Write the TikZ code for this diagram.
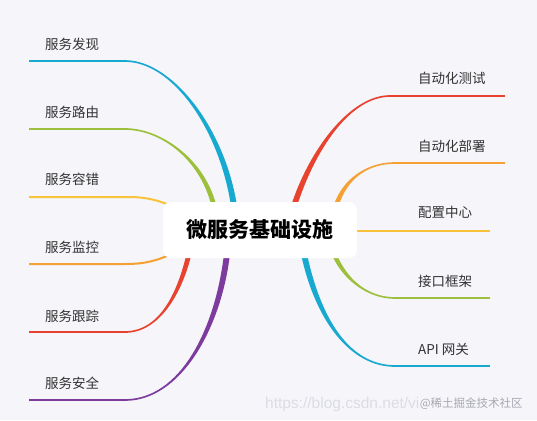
\documentclass[tikz,border=0pt]{standalone}
\usepackage{fontspec}
\setmainfont{Liberation Sans}
\newfontfamily\cjk{Noto Sans CJK SC}
\usetikzlibrary{calc}
\definecolor{bg}{HTML}{F5F5FA}
\definecolor{labelgray}{HTML}{333333}
\definecolor{cyanb}{HTML}{18A9D0}
\definecolor{greenb}{HTML}{9CBF3C}
\definecolor{yellowb}{HTML}{F8C23B}
\definecolor{orangeb}{HTML}{F4A033}
\definecolor{redb}{HTML}{E8432F}
\definecolor{purpleb}{HTML}{7D3B9E}
\definecolor{wmlight}{HTML}{DCDCE4}
\definecolor{wmdark}{HTML}{A8A8B0}
% #1 colour, #2 bend coordinate, #3 c1, #4 c2, #5 end coordinate, #6 start offset, #7 end offset
\newcommand\taperto[7]{%
  \fill[#1] ($(#2)+(#6)$) .. controls ($(#3)+(#6)$) and ($(#4)+(#7)$) .. ($(#5)+(#7)$)
    -- ($(#5)-(#7)$) .. controls ($(#4)-(#7)$) and ($(#3)-(#6)$) .. ($(#2)-(#6)$) -- cycle;}
\begin{document}
\begin{tikzpicture}[x=1pt,y=-1pt,
  lbl/.style={anchor=west, font=\cjk\fontsize{13.5}{16}\selectfont, text=labelgray, inner sep=0pt},
  thin/.style={line width=1.7pt},
  hub/.style={fill=white, rounded corners=8pt, minimum width=194pt, minimum height=56pt,
    font=\cjk\bfseries\fontsize{21}{24}\selectfont, text=black, inner sep=0pt}]
\fill[bg] (0,0) rectangle (537,420);
\useasboundingbox (0,0) rectangle (537,420);

% left side coordinates
\coordinate (l1a) at (29,61);  \coordinate (l1b) at (125,61);  \coordinate (l1e) at (234,206);
\coordinate (l2a) at (29,129); \coordinate (l2b) at (125,129); \coordinate (l2e) at (214,206);
\coordinate (l3a) at (29,197); \coordinate (l3b) at (128,197); \coordinate (l3e) at (174,207);
\coordinate (l4a) at (29,264); \coordinate (l4b) at (125,264); \coordinate (l4e) at (174,253);
\coordinate (l5a) at (29,332); \coordinate (l5b) at (125,332); \coordinate (l5e) at (189,254);
\coordinate (l6a) at (29,400); \coordinate (l6b) at (125,400); \coordinate (l6e) at (227,254);
% right side coordinates
\coordinate (r1a) at (505,96);  \coordinate (r1b) at (390,96);  \coordinate (r1e) at (294,206);
\coordinate (r2a) at (505,163); \coordinate (r2b) at (395,163); \coordinate (r2e) at (336,206);
\coordinate (r3a) at (490,231); \coordinate (r3e) at (350,231);
\coordinate (r4a) at (490,298); \coordinate (r4b) at (395,298); \coordinate (r4e) at (334,254);
\coordinate (r5a) at (490,366); \coordinate (r5b) at (395,366); \coordinate (r5e) at (304,254);

% left branches
\draw[cyanb,thin] (l1a) -- (l1b);
\taperto{cyanb}{l1b}{172,61}{222,128}{l1e}{0,-0.85}{3,0}
\draw[greenb,thin] (l2a) -- (l2b);
\taperto{greenb}{l2b}{160,129}{202,158}{l2e}{0,-0.85}{2.5,0}
\draw[yellowb,line width=2pt] (l3a) -- (l3b) .. controls (146,197) and (158,200) .. (l3e);
\draw[orangeb,line width=2pt] (l4a) -- (l4b) .. controls (145,264) and (156,261) .. (l4e);
\draw[redb,thin] (l5a) -- (l5b);
\taperto{redb}{l5b}{160,332}{180,292}{l5e}{0,0.85}{2.5,0}
\draw[purpleb,thin] (l6a) -- (l6b);
\taperto{purpleb}{l6b}{180,400}{218,330}{l6e}{0,0.85}{3,0}

% right branches
\draw[redb,thin] (r1a) -- (r1b);
\taperto{redb}{r1b}{350,96}{312,150}{r1e}{0,-0.85}{-3,0}
\draw[orangeb,thin] (r2a) -- (r2b);
\taperto{orangeb}{r2b}{368,163}{345,178}{r2e}{0,-0.85}{-2.5,0}
\draw[yellowb,line width=2pt] (r3e) -- (r3a);
\draw[greenb,thin] (r4a) -- (r4b);
\taperto{greenb}{r4b}{368,298}{345,280}{r4e}{0,0.85}{-2.5,0}
\draw[cyanb,thin] (r5a) -- (r5b);
\taperto{cyanb}{r5b}{350,366}{318,320}{r5e}{0,0.85}{-3,0}

% central hub
\node[hub] (hub) at (260,230) {微服务基础设施};

% labels
\node[lbl] (t1) at (45,44)  {服务发现};
\node[lbl] (t2) at (45,112) {服务路由};
\node[lbl] (t3) at (45,179) {服务容错};
\node[lbl] (t4) at (45,247) {服务监控};
\node[lbl] (t5) at (45,316) {服务跟踪};
\node[lbl] (t6) at (45,383) {服务安全};
\node[lbl] (s1) at (418,78)  {自动化测试};
\node[lbl] (s2) at (418,146) {自动化部署};
\node[lbl] (s3) at (418,212) {配置中心};
\node[lbl] (s4) at (418,281) {接口框架};
\node[lbl] (s5) at (418,349) {API 网关};

% watermark
\node[anchor=west, inner sep=0pt, text=wmlight, font=\fontsize{15.5}{17}\selectfont] (wm1) at (265,404) {https://blog.csdn.net/vi};
\node[anchor=west, inner sep=0pt, text=wmdark, font=\cjk\fontsize{11.5}{13}\selectfont] (wm2) at (wm1.east) {@稀土掘金技术社区};
\end{tikzpicture}
\end{document}
